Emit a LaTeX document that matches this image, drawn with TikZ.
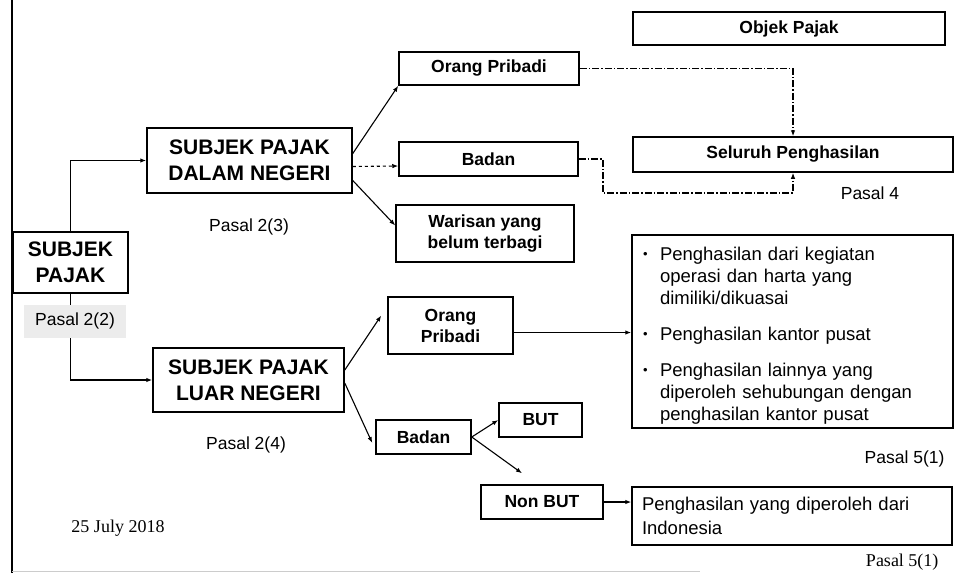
\documentclass[tikz,border=0pt]{standalone}
\usepackage{fontspec}
\setmainfont{Liberation Sans}
\newfontfamily\seriffont{Liberation Serif}
\usepackage{enumitem}
\usetikzlibrary{arrows.meta}

\begin{document}
\begin{tikzpicture}[x=1pt, y=-1pt,
  box/.style={draw, line width=1.5pt, inner sep=0pt, align=center, font=\bfseries\fontsize{17.5}{21}\selectfont},
  bigbox/.style={box, font=\bfseries\fontsize{21}{26}\selectfont},
  textbox/.style={draw, line width=1.5pt, inner ysep=0pt, align=left, font=\fontsize{18.5}{22}\selectfont},
  pasal/.style={font=\fontsize{17.5}{20}\selectfont},
  serifnote/.style={font=\seriffont\fontsize{18}{20}\selectfont},
  link/.style={-{Latex[length=6pt,width=4.5pt]}, line width=1.1pt},
  dashlink/.style={link, line width=1.1pt, dash pattern=on 7pt off 2pt on 1.5pt off 2pt}]
  \useasboundingbox (0,0) rectangle (965,573);
  \draw[line width=2.6pt] (12,0) -- (12,573);
  \draw[gray!40, line width=1pt] (12,571) -- (700,571);

  \node[bigbox, minimum width=115pt, minimum height=61pt] (sp) at (70.5,262.5) {SUBJEK\\PAJAK};
  \node[bigbox, minimum width=205pt, minimum height=65pt] (spdn) at (249.5,160.5) {SUBJEK PAJAK\\DALAM NEGERI};
  \node[bigbox, minimum width=191pt, minimum height=64pt] (spln) at (248.5,380) {SUBJEK PAJAK\\LUAR NEGERI};
  \node[pasal] (p23) at (249,227) {Pasal 2(3)};
  \node[pasal] (p24) at (246,445) {Pasal 2(4)};

  \node[box, minimum width=180pt, minimum height=33pt] (opdn) at (489,68.5) {Orang Pribadi};
  \node[box, minimum width=179pt, minimum height=34pt] (badandn) at (488.5,159) {Badan};
  \node[box, minimum width=178pt, minimum height=57pt] (warisan) at (485,233.5) {Warisan yang\\belum terbagi};
  \node[box, minimum width=312pt, minimum height=33pt] (objek) at (789,28.5) {Objek Pajak};
  \node[box, minimum width=320pt, minimum height=35pt] (seluruh) at (793,154.5) {Seluruh Penghasilan};
  \node[pasal] (p4) at (870,193) {Pasal 4};

  \node[box, minimum width=125pt, minimum height=57pt] (oplnx) at (450.5,325.5) {Orang\\Pribadi};
  \node[box, minimum width=95pt, minimum height=34pt] (badanln) at (423.5,437) {Badan};
  \node[box, minimum width=83pt, minimum height=34pt] (but) at (540.5,420) {BUT};
  \node[box, minimum width=122pt, minimum height=34pt] (nonbut) at (542,502) {Non BUT};

  \node[textbox, text width=302pt, inner xsep=9.5pt, minimum height=193pt] (income) at (792.5,331.5) {%
    \begin{itemize}[label={\raisebox{2pt}{\fontsize{13}{13}\selectfont\textbullet}}, leftmargin=18.5pt, labelsep=9pt, labelwidth=8pt, align=left, topsep=0pt, partopsep=0pt, parsep=0pt, itemsep=14pt]
      \item Penghasilan dari kegiatan\newline operasi dan harta yang\newline dimiliki/dikuasai
      \item Penghasilan kantor pusat
      \item Penghasilan lainnya yang\newline diperoleh sehubungan dengan\newline penghasilan kantor pusat
    \end{itemize}};
  \node[pasal, anchor=east] (p51a) at (948,459) {Pasal 5(1)};
  \node[textbox, text width=300pt, inner xsep=10pt, minimum height=58pt, font=\fontsize{18.5}{24}\selectfont] (indo) at (792,516) {Penghasilan yang diperoleh dari\\Indonesia};
  \node[serifnote, anchor=east] (p51b) at (942,562) {Pasal 5(1)};
  \node[serifnote] (date) at (118,528) {25 July 2018};

  \draw[link] (sp.north) |- (spdn.west);
  \draw[link] (sp.south) |- (spln.west);
  \node[pasal, fill=gray!15, minimum width=102pt, minimum height=33pt, inner sep=0pt] (p22) at (75,321) {Pasal 2(2)};

  \draw[link] ([yshift=7pt]spdn.east) -- (opdn.south west);
  \draw[link, dashed] ([yshift=-6pt]spdn.east) -- ([yshift=-7pt]badandn.west);
  \draw[link] ([yshift=-20pt]spdn.east) -- ([yshift=8pt]warisan.west);
  \draw[dashlink] (opdn.east) -| (seluruh.north);
  \coordinate (turn) at (603,193);
  \draw[dashlink] (badandn.east) -| (turn) -| (seluruh.south);

  \draw[link] ([yshift=10pt]spln.east) -- ([xshift=-6pt,yshift=10pt]oplnx.west);
  \draw[link] ([yshift=-3pt]spln.east) -- ([xshift=-3pt,yshift=-6pt]badanln.west);
  \draw[link] ([yshift=-7pt]oplnx.east) -- ([yshift=-1pt]income.west);
  \draw[link] (badanln.east) -- (but.west);
  \draw[link] (badanln.east) -- ([xshift=-20pt,yshift=11pt]nonbut.north);
  \draw[link] (nonbut.east) -- (nonbut.east -| indo.west);
\end{tikzpicture}
\end{document}
